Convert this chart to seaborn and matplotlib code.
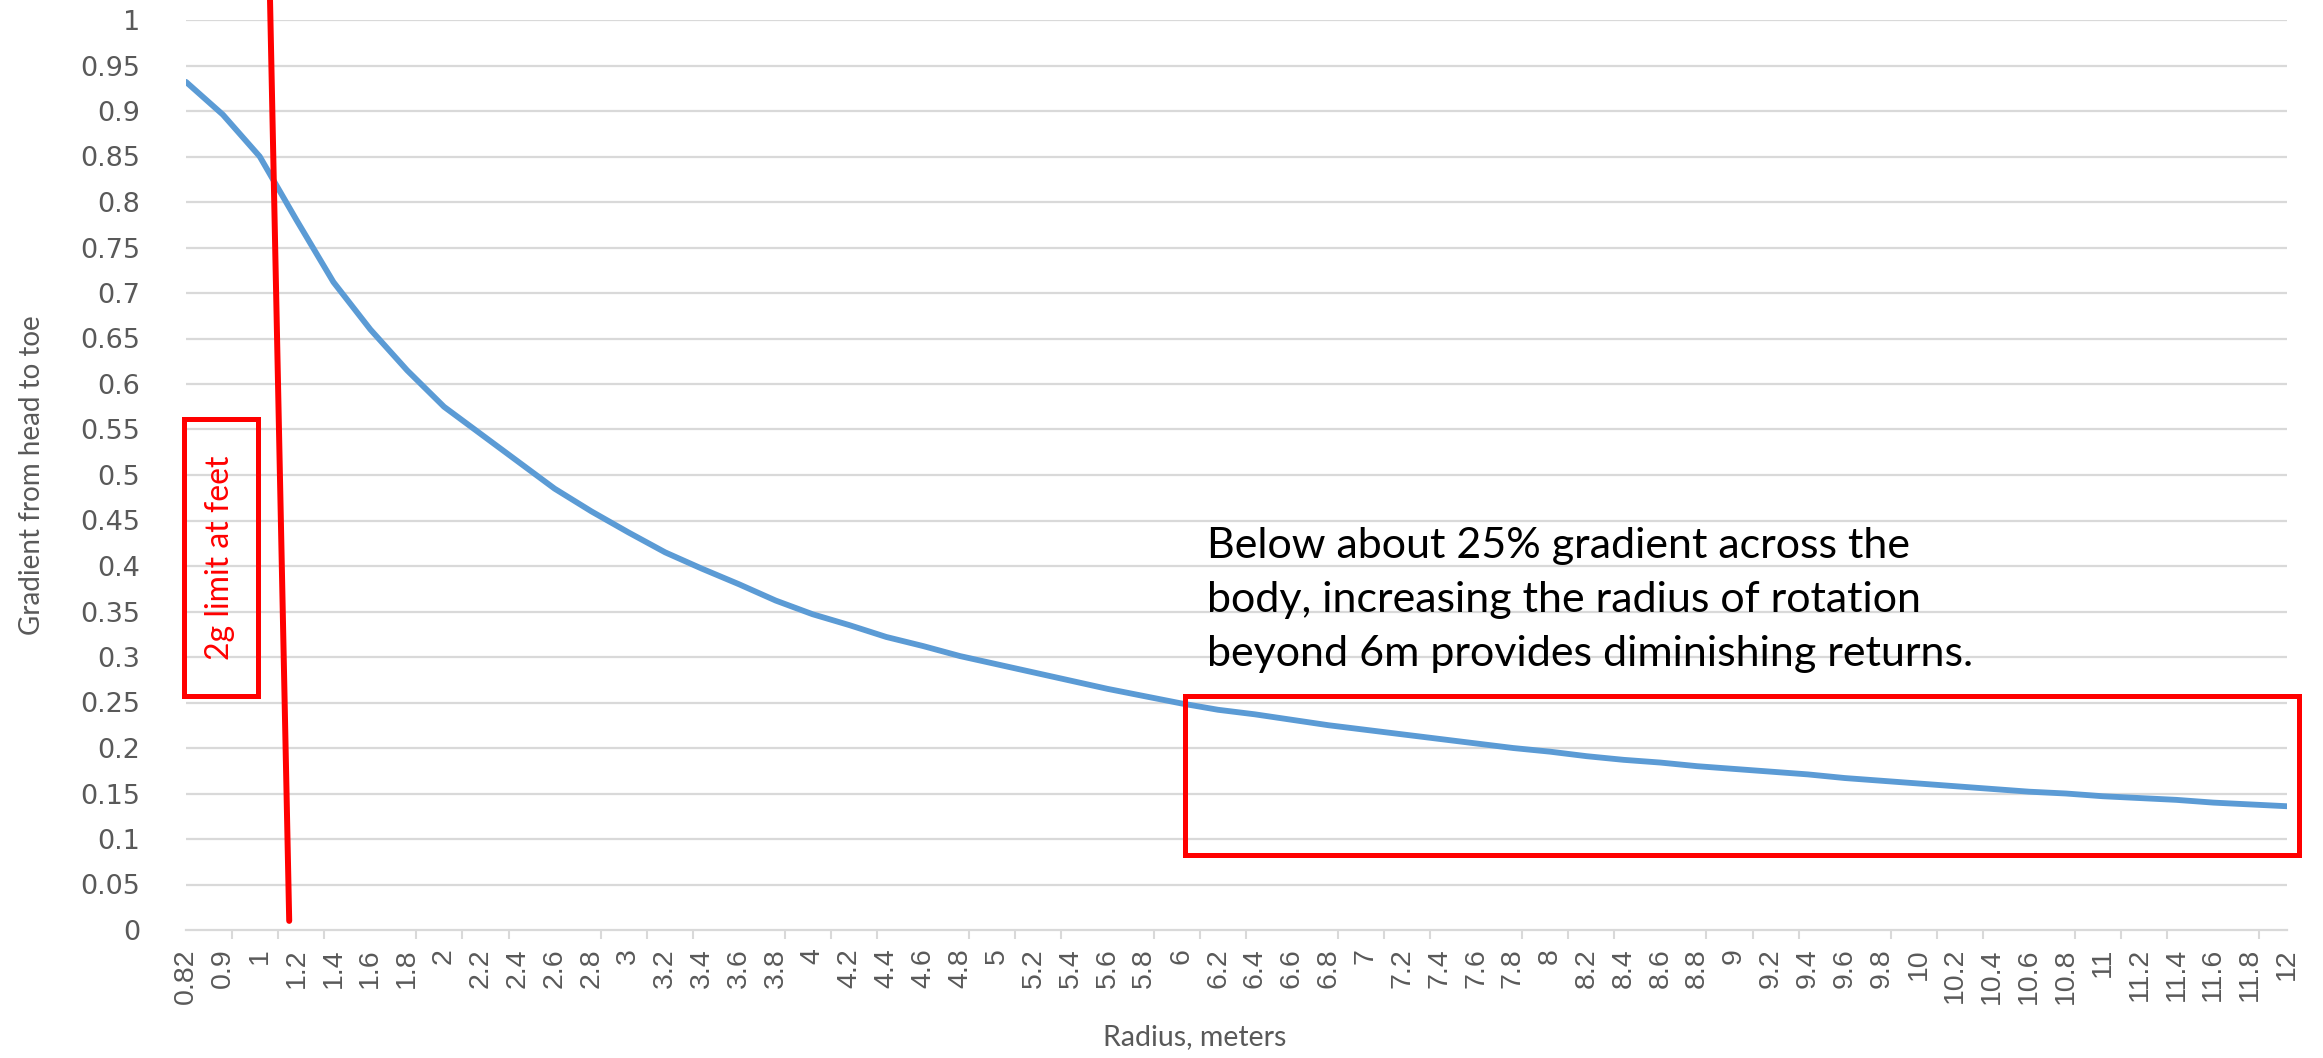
import numpy as np
import pandas as pd
import matplotlib
matplotlib.use("Agg")
import matplotlib.pyplot as plt
from matplotlib.patches import Rectangle
from matplotlib.lines import Line2D
from matplotlib.ticker import FixedLocator
import seaborn as sns

# ---- data ----
radius_labels = ["0.82", "0.9", "1", "1.2", "1.4", "1.6", "1.8", "2", "2.2", "2.4", "2.6", "2.8",
                 "3", "3.2", "3.4", "3.6", "3.8", "4", "4.2", "4.4", "4.6", "4.8", "5", "5.2",
                 "5.4", "5.6", "5.8", "6", "6.2", "6.4", "6.6", "6.8", "7", "7.2", "7.4", "7.6",
                 "7.8", "8", "8.2", "8.4", "8.6", "8.8", "9", "9.2", "9.4", "9.6", "9.8", "10",
                 "10.2", "10.4", "10.6", "10.8", "11", "11.2", "11.4", "11.6", "11.8", "12"]
gradient = [0.932, 0.896, 0.850, 0.780, 0.712, 0.660, 0.615, 0.575, 0.545, 0.515, 0.485, 0.460,
            0.437, 0.415, 0.397, 0.380, 0.362, 0.347, 0.335, 0.322, 0.312, 0.301, 0.292, 0.283,
            0.274, 0.265, 0.257, 0.249, 0.242, 0.237, 0.231, 0.225, 0.220, 0.215, 0.210, 0.205,
            0.200, 0.196, 0.191, 0.187, 0.184, 0.180, 0.177, 0.174, 0.171, 0.167, 0.164, 0.161,
            0.158, 0.155, 0.152, 0.150, 0.147, 0.145, 0.143, 0.140, 0.138, 0.136]
y_ticks = [round(0.05 * i, 2) for i in range(21)]
y_tick_labels = ["0", "0.05", "0.1", "0.15", "0.2", "0.25", "0.3", "0.35", "0.4", "0.45", "0.5",
                 "0.55", "0.6", "0.65", "0.7", "0.75", "0.8", "0.85", "0.9", "0.95", "1"]
annotation = ("Below about 25% gradient across the\n"
              "body, increasing the radius of rotation\n"
              "beyond 6m provides diminishing returns.")
box_label = "2g limit at feet"

df = pd.DataFrame({"pos": np.arange(len(radius_labels)), "gradient": gradient})

sns.set_theme(style="white")
plt.rcParams["font.family"] = ["DejaVu Sans"]

W, H = 2323, 1058
fig = plt.figure(figsize=(W / 100, H / 100), dpi=100)
ax = fig.add_axes([186 / W, 1 - 930 / H, (2287 - 186) / W, (930 - 20) / H])

grid_c = "#d9d9d9"
text_c = "#595959"

sns.lineplot(data=df, x="pos", y="gradient", ax=ax, color="#5B9BD5", linewidth=4.2,
             zorder=3)

ax.set_xlim(0, len(radius_labels) - 1)
ax.set_ylim(0, 1)

ax.set_yticks(y_ticks)
ax.set_yticklabels(y_tick_labels)
for y in y_ticks[1:]:
    ax.axhline(y, color=grid_c, linewidth=1.6, zorder=1)

ax.set_xticks(np.arange(len(radius_labels)))
ax.set_xticklabels(radius_labels, rotation=90, fontfamily="Liberation Sans",
                   fontsize=20.5, color=text_c)
ax.xaxis.set_minor_locator(FixedLocator(np.arange(0, len(radius_labels) - 0.5, 1.25)))
ax.tick_params(axis="x", which="major", length=0, pad=13)
ax.tick_params(axis="x", which="minor", bottom=True, length=6.5, width=1.5, color=grid_c,
               direction="out")
ax.tick_params(axis="y", length=0, pad=33, labelsize=19.5, labelcolor=text_c)

for side in ["left", "right", "top"]:
    ax.spines[side].set_visible(False)
ax.spines["bottom"].set_color(grid_c)
ax.spines["bottom"].set_linewidth(1.6)

ax.set_xlabel("Radius, meters", fontfamily="Lato", fontsize=20.5, color=text_c)
ax.xaxis.set_label_coords(0.48, -0.118)
ax.xaxis.label.set_va("center")
ax.set_ylabel("Gradient from head to toe", fontfamily="Lato", fontsize=20, color=text_c)
ax.yaxis.set_label_coords(-0.0735, 0.5)
ax.yaxis.label.set_va("center")

# ---- red annotation shapes ----
red = "#FF0000"
ax.add_patch(Rectangle((-0.05, 0.257), 2.0, 0.3045, fill=False, edgecolor=red,
                       linewidth=3.6, clip_on=False, zorder=5))
ax.text(0.92, 0.409, box_label, rotation=90, color=red, fontfamily="Lato", fontsize=23,
        ha="center", va="center", zorder=6)
ax.add_line(Line2D([2.26, 2.80], [1.06, 0.01], color=red, linewidth=4.3, clip_on=False,
                   zorder=6))
ax.add_patch(Rectangle((27.1, 0.082), 30.23, 0.175, fill=False, edgecolor=red,
                       linewidth=3.6, clip_on=False, zorder=5))
fig.text(1207 / W, 1 - 600 / H, annotation, color="black", fontfamily="Lato",
         fontsize=31, ha="left", va="center", linespacing=1.52)

fig.savefig("out.png", dpi=100, facecolor="white")
